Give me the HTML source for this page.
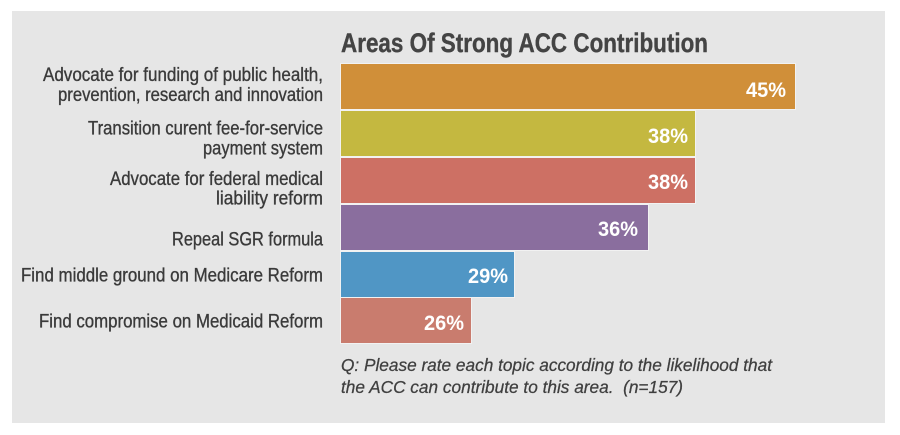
<!DOCTYPE html>
<html>
<head>
<meta charset="utf-8">
<style>
  html, body { margin: 0; padding: 0; background: #ffffff; }
  body { width: 900px; height: 435px; overflow: hidden; }
  svg { display: block; }
  text { font-family: "Liberation Sans", sans-serif; }
  .lbl { font-size: 19px; fill: #3a3a3a; stroke: #3a3a3a; stroke-width: 0.35px; }
  .val { font-size: 21.5px; font-weight: bold; fill: #ffffff; }
  .note { font-size: 17.5px; font-style: italic; fill: #3f3f3f; stroke: #3f3f3f; stroke-width: 0.25px; white-space: pre; }
</style>
</head>
<body>
<svg width="900" height="435" viewBox="0 0 900 435" xmlns="http://www.w3.org/2000/svg">
  <rect x="0" y="0" width="900" height="435" fill="#ffffff"/>
  <rect x="12" y="11" width="873" height="412" fill="#e6e6e6"/>

  <!-- Title -->
  <text x="341" y="52" font-size="27" font-weight="bold" fill="#444444" stroke="#444444" stroke-width="0.4" textLength="367" lengthAdjust="spacingAndGlyphs">Areas Of Strong ACC Contribution</text>

  <!-- Bars -->
  <g stroke="#f2f2f2" stroke-width="1">
    <rect x="340.5" y="63.5" width="455" height="46" fill="#d08f39"/>
    <rect x="340.5" y="110.5" width="355" height="46" fill="#c4b840"/>
    <rect x="340.5" y="157.5" width="355" height="46" fill="#cd7064"/>
    <rect x="340.5" y="204.5" width="308" height="46" fill="#8a6e9e"/>
    <rect x="340.5" y="251.5" width="174" height="46" fill="#5096c5"/>
    <rect x="340.5" y="297.5" width="131" height="46" fill="#c97c6e"/>
  </g>

  <!-- Value labels -->
  <text class="val" x="786" y="97" text-anchor="end" textLength="40" lengthAdjust="spacingAndGlyphs">45%</text>
  <text class="val" x="688" y="143" text-anchor="end" textLength="40" lengthAdjust="spacingAndGlyphs">38%</text>
  <text class="val" x="688" y="189" text-anchor="end" textLength="40" lengthAdjust="spacingAndGlyphs">38%</text>
  <text class="val" x="638" y="236" text-anchor="end" textLength="40" lengthAdjust="spacingAndGlyphs">36%</text>
  <text class="val" x="508" y="283" text-anchor="end" textLength="40" lengthAdjust="spacingAndGlyphs">29%</text>
  <text class="val" x="464" y="330" text-anchor="end" textLength="40" lengthAdjust="spacingAndGlyphs">26%</text>

  <!-- Category labels -->
  <text class="lbl" x="43" y="81" textLength="280" lengthAdjust="spacingAndGlyphs">Advocate for funding of public health,</text>
  <text class="lbl" x="58" y="101" textLength="265" lengthAdjust="spacingAndGlyphs">prevention, research and innovation</text>

  <text class="lbl" x="88" y="134.5" textLength="235" lengthAdjust="spacingAndGlyphs">Transition curent fee-for-service</text>
  <text class="lbl" x="203" y="154.5" textLength="120" lengthAdjust="spacingAndGlyphs">payment system</text>

  <text class="lbl" x="110" y="185" textLength="213" lengthAdjust="spacingAndGlyphs">Advocate for federal medical</text>
  <text class="lbl" x="216" y="204.5" textLength="107" lengthAdjust="spacingAndGlyphs">liability reform</text>

  <text class="lbl" x="172" y="245.5" textLength="151" lengthAdjust="spacingAndGlyphs">Repeal SGR formula</text>
  <text class="lbl" x="21" y="281.7" textLength="302" lengthAdjust="spacingAndGlyphs">Find middle ground on Medicare Reform</text>
  <text class="lbl" x="39" y="327.3" textLength="284" lengthAdjust="spacingAndGlyphs">Find compromise on Medicaid Reform</text>

  <!-- Footnote -->
  <text class="note" x="341" y="371" textLength="431" lengthAdjust="spacingAndGlyphs">Q: Please rate each topic according to the likelihood that</text>
  <text class="note" x="341" y="393" textLength="342" lengthAdjust="spacingAndGlyphs">the ACC can contribute to this area.  (n=157)</text>
</svg>
</body>
</html>
